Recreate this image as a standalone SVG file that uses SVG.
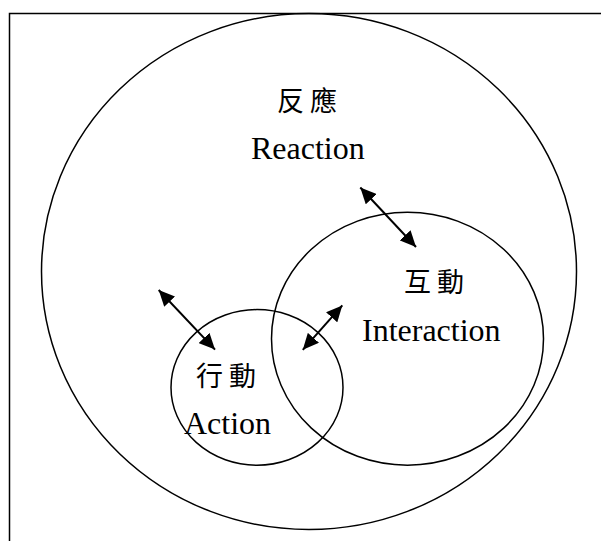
<svg xmlns="http://www.w3.org/2000/svg" width="601" height="541" viewBox="0 0 601 541">
<defs>
<marker id="ah" viewBox="0 0 16 15" refX="16" refY="7.5" markerWidth="16" markerHeight="15" markerUnits="userSpaceOnUse" orient="auto-start-reverse">
<path d="M0,0 L16,7.5 L0,15 z" fill="#000"/>
</marker>
</defs>
<style>
.sh{fill:none;stroke:#000;stroke-width:1.5}
.en{font-family:"Liberation Serif","Times New Roman",serif;font-size:32px;fill:#000}
.zh{font-family:"Noto Sans CJK TC","Noto Sans CJK SC",sans-serif;font-size:27px;font-weight:400;letter-spacing:6px;fill:#000}
.ar{stroke:#000;stroke-width:2;fill:none;marker-start:url(#ah);marker-end:url(#ah)}
</style>
<rect x="0" y="0" width="601" height="541" fill="#fff"/>
<rect class="sh" x="9.5" y="13.5" width="600" height="540"/>
<g id="reaction">
<ellipse class="sh" cx="309" cy="271.5" rx="267.5" ry="258"/>
<text class="zh" x="277" y="111">反應</text>
<text class="en" x="251" y="159">Reaction</text>
</g>
<g id="interaction">
<ellipse class="sh" cx="407.5" cy="338.7" rx="136" ry="126.5"/>
<text class="zh" x="404" y="292">互動</text>
<text class="en" x="362" y="341">Interaction</text>
</g>
<g id="action">
<ellipse class="sh" cx="257" cy="387.4" rx="86" ry="77.8"/>
<text class="zh" x="196" y="386">行動</text>
<text class="en" x="184" y="434">Action</text>
</g>
<g id="connectors">
<line class="ar" x1="360.3" y1="187.5" x2="416" y2="247"/>
<line class="ar" x1="158.7" y1="290" x2="215" y2="349.6"/>
<line class="ar" x1="342.3" y1="305.4" x2="302.8" y2="349.8"/>
</g>
</svg>
